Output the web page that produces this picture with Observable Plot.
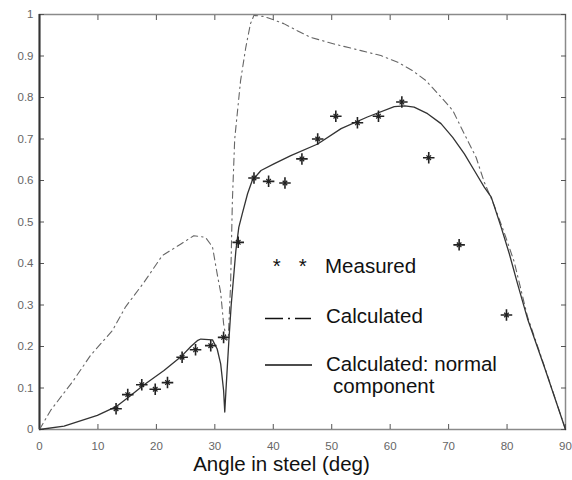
<!DOCTYPE html>
<html>
<head>
<meta charset="utf-8">
<script src="https://cdn.jsdelivr.net/npm/d3@7"></script>
<script src="https://cdn.jsdelivr.net/npm/@observablehq/plot@0.6"></script>
<style>
  html, body { margin: 0; padding: 0; background: #fff; }
  #chart { position: relative; width: 572px; height: 480px; }
</style>
</head>
<body>
<div id="chart"></div>
<script>
// ---- data ----
const measuredX = [13.1, 15.1, 17.5, 19.8, 21.9, 24.4, 26.7, 29.3, 31.5, 34.0, 36.7, 39.2, 42.0, 44.9, 47.6, 50.7, 54.4, 58.0, 62.0, 66.6, 71.8, 79.9];
const measuredY = [0.050, 0.084, 0.108, 0.097, 0.113, 0.174, 0.192, 0.202, 0.222, 0.451, 0.606, 0.598, 0.594, 0.652, 0.700, 0.755, 0.739, 0.755, 0.789, 0.655, 0.445, 0.276];

const calcX = [0, 1.9, 5.8, 8.7, 12.5, 14.7, 17.9, 21.0, 24.2, 26.4, 28.4, 29.6, 30.4, 31.0, 31.5, 32.0, 32.3, 32.7, 33.0, 33.4, 34.4, 35.3, 36.1, 36.7, 38.5, 41.8, 44.1, 46.4, 50.4, 55.0, 58.4, 61.3, 63.8, 66.1, 68.7, 70.7, 72.7, 74.7, 76.1, 77.8, 79.5, 81.2, 83.5, 86.4, 90];
const calcY = [0, 0.046, 0.118, 0.178, 0.239, 0.295, 0.355, 0.419, 0.447, 0.467, 0.463, 0.440, 0.375, 0.330, 0.255, 0.215, 0.220, 0.350, 0.550, 0.700, 0.840, 0.921, 0.978, 0.998, 0.995, 0.978, 0.961, 0.945, 0.929, 0.913, 0.901, 0.885, 0.865, 0.841, 0.801, 0.769, 0.712, 0.656, 0.596, 0.540, 0.475, 0.405, 0.272, 0.152, 0];

const normX = [0, 4.2, 9.9, 13.1, 15.6, 17.9, 21.3, 24.4, 25.9, 27.0, 27.6, 29.6, 30.4, 31.0, 31.5, 31.7, 31.9, 32.4, 32.8, 33.6, 34.1, 34.7, 35.6, 36.4, 37.9, 40.1, 43.0, 47.6, 51.6, 56.1, 60.7, 62.5, 64.1, 66.4, 68.7, 70.7, 72.7, 74.4, 76.1, 77.3, 79.0, 80.4, 81.8, 83.5, 86.4, 90];
const normY = [0, 0.008, 0.034, 0.055, 0.082, 0.108, 0.142, 0.178, 0.200, 0.214, 0.218, 0.216, 0.194, 0.158, 0.094, 0.042, 0.094, 0.214, 0.300, 0.431, 0.487, 0.520, 0.568, 0.600, 0.624, 0.640, 0.660, 0.688, 0.725, 0.753, 0.778, 0.780, 0.777, 0.761, 0.737, 0.704, 0.664, 0.624, 0.584, 0.560, 0.487, 0.423, 0.351, 0.267, 0.150, 0];

const xTicks = [0, 10, 20, 30, 40, 50, 60, 70, 80, 90];
const xTickLabels = ["0", "10", "20", "30", "40", "50", "60", "70", "80", "90"];
const yTicks = [0, 0.1, 0.2, 0.3, 0.4, 0.5, 0.6, 0.7, 0.8, 0.9, 1];
const yTickLabels = ["0", "0.1", "0.2", "0.3", "0.4", "0.5", "0.6", "0.7", "0.8", "0.9", "1"];

const xLabel = "Angle in steel (deg)";
const legendLabels = ["Measured", "Calculated", "Calculated: normal", "component"];

// ---- tables ----
const measured = measuredX.map((x, i) => ({x, y: measuredY[i]}));
const calc = calcX.map((x, i) => ({x, y: calcY[i]}));
const norm = normX.map((x, i) => ({x, y: normY[i]}));

const font = "Liberation Sans, Arial, sans-serif";

const plot = Plot.plot({
  width: 572,
  height: 480,
  marginTop: 14,
  marginBottom: 51,
  marginLeft: 39,
  marginRight: 7,
  style: {background: "#fff", fontFamily: font},
  x: {domain: [0, 90]},
  y: {domain: [0, 1]},
  marks: [
    Plot.frame({stroke: "#8a8a8a", strokeWidth: 1.5}),
    Plot.axisX(xTicks, {anchor: "bottom", tickSize: -5, tickPadding: 17, tickFormat: (d, i) => xTickLabels[i], fontSize: 11.5, fill: "#666", stroke: "#555", label: null}),
    Plot.axisX(xTicks, {anchor: "top", tickSize: -5, tickFormat: () => "", stroke: "#555", label: null}),
    Plot.axisY(yTicks, {anchor: "left", tickSize: -5, tickPadding: 11, tickFormat: (d, i) => yTickLabels[i], fontSize: 11.5, fill: "#666", stroke: "#555", label: null}),
    Plot.axisY(yTicks, {anchor: "right", tickSize: -5, tickFormat: () => "", stroke: "#555", label: null}),
    Plot.ruleX([0], {stroke: "#333", strokeWidth: 2}),
    Plot.line(calc, {x: "x", y: "y", stroke: "#666", strokeWidth: 1.1, strokeDasharray: "7,4,1.5,4"}),
    Plot.line(norm, {x: "x", y: "y", stroke: "#333", strokeWidth: 1.3}),
    Plot.dot(measured, {x: "x", y: "y", symbol: "plus", r: 3.8, stroke: "#222", strokeWidth: 1.6}),
    Plot.dot(measured, {x: "x", y: "y", symbol: "times", r: 2.2, stroke: "#222", strokeWidth: 1.3}),
    Plot.text([xLabel], {frameAnchor: "bottom", dx: -21, dy: 27, lineAnchor: "top", fontSize: 20.5, fill: "#111", fontFamily: font})
  ]
});

document.getElementById("chart").appendChild(plot);

// ---- legend (drawn inside the plot frame) ----
const svg = d3.select(plot);
const lg = svg.append("g")
  .attr("font-family", font)
  .attr("font-size", 20.5)
  .attr("text-anchor", "start")
  .attr("fill", "#111");

// measured entry
lg.append("text").attr("x", 276.7).attr("y", 273).attr("text-anchor", "middle").text("*");
lg.append("text").attr("x", 302.7).attr("y", 273).attr("text-anchor", "middle").text("*");
lg.append("text").attr("x", 325).attr("y", 273).text(legendLabels[0]);

// calculated entry
lg.append("line").attr("x1", 265).attr("x2", 311).attr("y1", 318.5).attr("y2", 318.5)
  .attr("stroke", "#111").attr("stroke-width", 1.3).attr("stroke-dasharray", "18,5,2,5");
lg.append("text").attr("x", 326).attr("y", 323).text(legendLabels[1]);

// normal component entry
lg.append("line").attr("x1", 265).attr("x2", 312).attr("y1", 365).attr("y2", 365)
  .attr("stroke", "#111").attr("stroke-width", 1.3);
lg.append("text").attr("x", 326).attr("y", 371).text(legendLabels[2]);
lg.append("text").attr("x", 333).attr("y", 393).text(legendLabels[3]);
</script>
</body>
</html>
